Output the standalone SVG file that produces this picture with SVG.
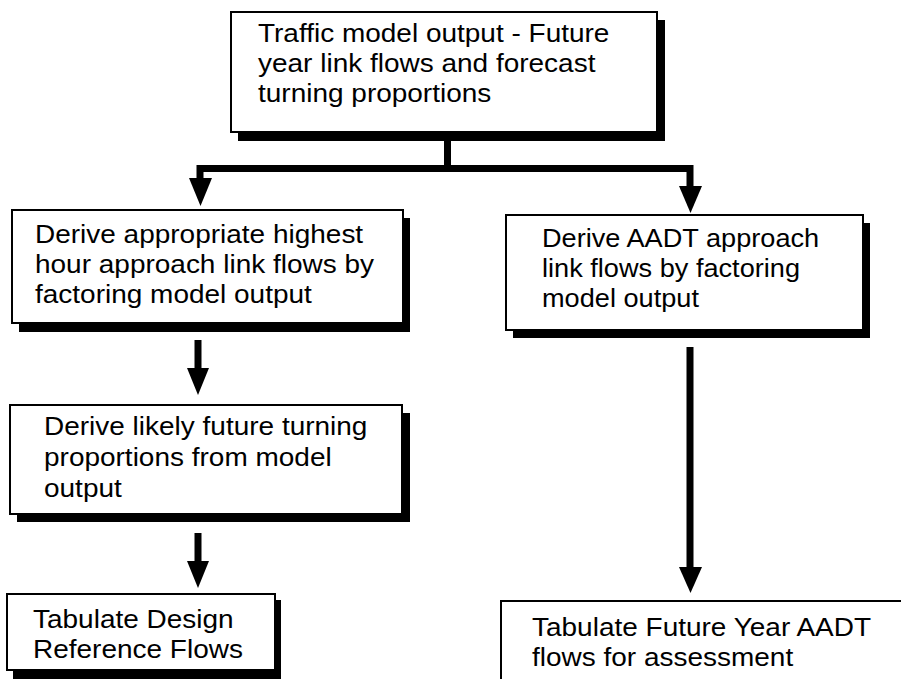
<svg xmlns="http://www.w3.org/2000/svg" width="901" height="679" viewBox="0 0 901 679">
<style>
.sh{fill:#000}
.bx{fill:#fff;stroke:#000;stroke-width:2}
.t{font-family:"Liberation Sans",Arial,sans-serif;font-size:28px;fill:#000}
.ln{stroke:#000;stroke-width:7;fill:none}
.hd{fill:#000}
</style>
<rect width="901" height="679" fill="#fff"/>
<g id="n1">
<rect class="sh" x="238" y="20" width="427" height="121"/>
<rect class="bx" x="231" y="12" width="426" height="120"/>
<text class="t" transform="matrix(1 0 0 0.93 258 42)"><tspan x="0" y="0">Traffic model output - Future</tspan><tspan x="0" y="32.3">year link flows and forecast</tspan><tspan x="0" y="64.6">turning proportions</tspan></text>
</g>
<g id="n2">
<rect class="sh" x="19" y="218" width="391" height="114"/>
<rect class="bx" x="12" y="210" width="391" height="113"/>
<text class="t" transform="matrix(1 0 0 0.93 35 243)"><tspan x="0" y="0">Derive appropriate highest</tspan><tspan x="0" y="32.3">hour approach link flows by</tspan><tspan x="0" y="64.6">factoring model output</tspan></text>
</g>
<g id="n3">
<rect class="sh" x="513" y="223" width="357" height="115"/>
<rect class="bx" x="506" y="215" width="357" height="115"/>
<text class="t" transform="matrix(0.97 0 0 0.93 542 247)"><tspan x="0" y="0">Derive AADT approach</tspan><tspan x="0" y="32.3">link flows by factoring</tspan><tspan x="0" y="64.6">model output</tspan></text>
</g>
<g id="n4">
<rect class="sh" x="17" y="413" width="393" height="109"/>
<rect class="bx" x="10" y="405" width="392" height="109"/>
<text class="t" transform="matrix(1 0 0 0.93 44 435)"><tspan x="0" y="0">Derive likely future turning</tspan><tspan x="0" y="33.3">proportions from model</tspan><tspan x="0" y="66.6">output</tspan></text>
</g>
<g id="n5">
<rect class="sh" x="13" y="600" width="268" height="79"/>
<rect class="bx" x="7" y="594" width="268" height="76"/>
<text class="t" transform="matrix(1 0 0 0.93 33 628)"><tspan x="0" y="0">Tabulate Design</tspan><tspan x="0" y="32.3">Reference Flows</tspan></text>
</g>
<g id="n6">
<rect class="bx" x="501" y="601" width="420" height="100"/>
<text class="t" transform="matrix(1 0 0 0.93 532 636)"><tspan x="0" y="0">Tabulate Future Year AADT</tspan><tspan x="0" y="32.3">flows for assessment</tspan></text>
</g>
<g id="connectors">
<path class="ln" d="M447.5 141V168.5M200 168.5H690M200 165V182M690 165V190"/>
<polygon class="hd" points="189,178 212,178 200.5,206"/>
<polygon class="hd" points="679,186 702,186 690.5,213"/>
<path class="ln" d="M198 340V372"/>
<polygon class="hd" points="187,368 209,368 198,395"/>
<path class="ln" d="M198 533V564"/>
<polygon class="hd" points="187,561 209,561 198,588"/>
<path class="ln" d="M690 347V571"/>
<polygon class="hd" points="679,567 702,567 690.5,593"/>
</g>
</svg>
